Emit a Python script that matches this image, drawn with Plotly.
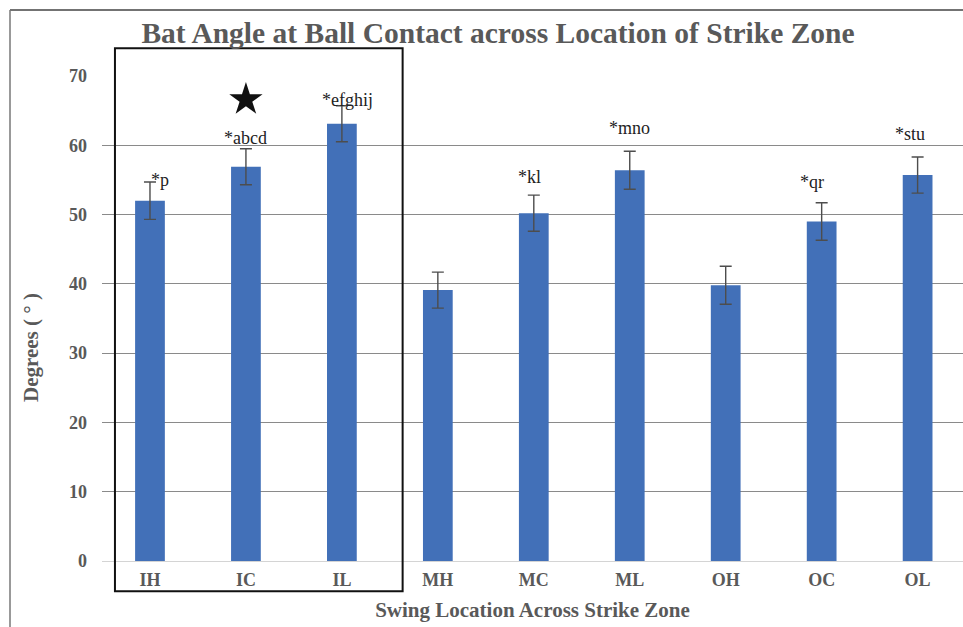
import plotly.graph_objects as go

# ---- data ----
categories = ["IH", "IC", "IL", "MH", "MC", "ML", "OH", "OC", "OL"]
means = [52.0, 56.9, 63.1, 39.1, 50.2, 56.4, 39.8, 49.0, 55.7]
errors = [2.7, 2.6, 2.6, 2.6, 2.6, 2.75, 2.75, 2.7, 2.6]
sig_labels = ["*p", "*abcd", "*efghij", "", "*kl", "*mno", "", "*qr", "*stu"]
sig_label_y = [55.0, 61.0, 66.5, None, 55.4, 62.5, None, 54.7, 61.6]
sig_label_shift = [10, 0, 6, 0, -4, 0, 0, -10, -8]
star_category = "IC"
star_value = 66.6
boxed_categories = ["IH", "IC", "IL"]
y_ticks = [0, 10, 20, 30, 40, 50, 60, 70]

BLUE = "#4270B8"
GREY_TXT = "#595959"
SERIF = "Liberation Serif, Times New Roman, serif"

X_MIN, X_MAX = -0.5, 8.473
Y_MIN, Y_MAX = 0, 70
PLOT_L, PLOT_W, PLOT_T, PLOT_H = 102, 861, 76, 485

fig = go.Figure()
fig.add_trace(go.Bar(
    x=categories, y=means, width=0.31,
    marker=dict(color=BLUE, line=dict(width=0)),
    error_y=dict(type="data", array=errors, visible=True,
                 color="#4d4d4d", thickness=1.4, width=6),
    showlegend=False, hoverinfo="x+y",
))
fig.add_trace(go.Scatter(
    x=[star_category], y=[star_value], mode="markers",
    marker=dict(symbol="star", size=25, color="#111111", line=dict(width=0)),
    showlegend=False, hoverinfo="skip",
))

for cat, lab, yv, sh in zip(categories, sig_labels, sig_label_y, sig_label_shift):
    if lab:
        fig.add_annotation(x=cat, y=yv, text=lab, showarrow=False, xshift=sh,
                           font=dict(family=SERIF, size=18, color="#222222"))

def xpaper(v):
    return (v - X_MIN) / (X_MAX - X_MIN)
def ypaper(v):
    return (v - Y_MIN) / (Y_MAX - Y_MIN)
def px_x(px):
    return (px - PLOT_L) / PLOT_W
def px_y(px):
    return (PLOT_T + PLOT_H - px) / PLOT_H

# box around the inside-zone group (paper coords so it is not clipped)
i0 = categories.index(boxed_categories[0])
i1 = categories.index(boxed_categories[-1])
fig.add_shape(type="rect", xref="paper", yref="paper",
              x0=xpaper(i0 - 0.365), x1=xpaper(i1 + 0.633),
              y0=ypaper(-4.35), y1=ypaper(74.0),
              line=dict(color="#111111", width=2), fillcolor="rgba(0,0,0,0)",
              layer="above")

# outer chart frame (cropped at right/bottom)
fig.add_shape(type="line", xref="paper", yref="paper",
              x0=px_x(10), x1=1.01, y0=px_y(10), y1=px_y(10),
              line=dict(color="#444444", width=1.5))
fig.add_shape(type="line", xref="paper", yref="paper",
              x0=px_x(10), x1=px_x(10), y0=px_y(10), y1=px_y(640),
              line=dict(color="#777777", width=1.5))

# y-axis title placed as in the reference (lower than plot centre)
fig.add_annotation(xref="paper", yref="paper", x=px_x(31), y=px_y(348),
                   text="<b>Degrees ( ° )</b>", textangle=-90, showarrow=False,
                   xanchor="center", yanchor="middle",
                   font=dict(family=SERIF, size=21, color=GREY_TXT))

fig.update_layout(
    width=963, height=627,
    margin=dict(l=PLOT_L, r=0, t=PLOT_T, b=627 - PLOT_T - PLOT_H),
    paper_bgcolor="white", plot_bgcolor="white",
    title=dict(text="<b>Bat Angle at Ball Contact across Location of Strike Zone</b>",
               x=498/963, xanchor="center", y=1 - 33/627, yanchor="middle",
               font=dict(family=SERIF, size=29.5, color=GREY_TXT)),
    xaxis=dict(range=[X_MIN, X_MAX], showgrid=False, zeroline=False,
               showline=False, ticks="", ticklabelstandoff=6,
               tickfont=dict(family=SERIF, size=18, color=GREY_TXT, weight="bold"),
               title=dict(text="<b>Swing Location Across Strike Zone</b>",
                          font=dict(family=SERIF, size=21, color=GREY_TXT),
                          standoff=13)),
    yaxis=dict(range=[Y_MIN, Y_MAX], tickvals=y_ticks, showgrid=True,
               gridcolor="#8a8a8a", gridwidth=1, zeroline=True,
               zerolinecolor="#d4d4d4", zerolinewidth=1, showline=False,
               ticks="", ticklabelstandoff=14,
               tickfont=dict(family=SERIF, size=18, color=GREY_TXT, weight="bold")),
)

fig.write_html("out.html", config={"displayModeBar": False},
               post_script="document.body.style.margin='0';document.body.style.padding='0';")
